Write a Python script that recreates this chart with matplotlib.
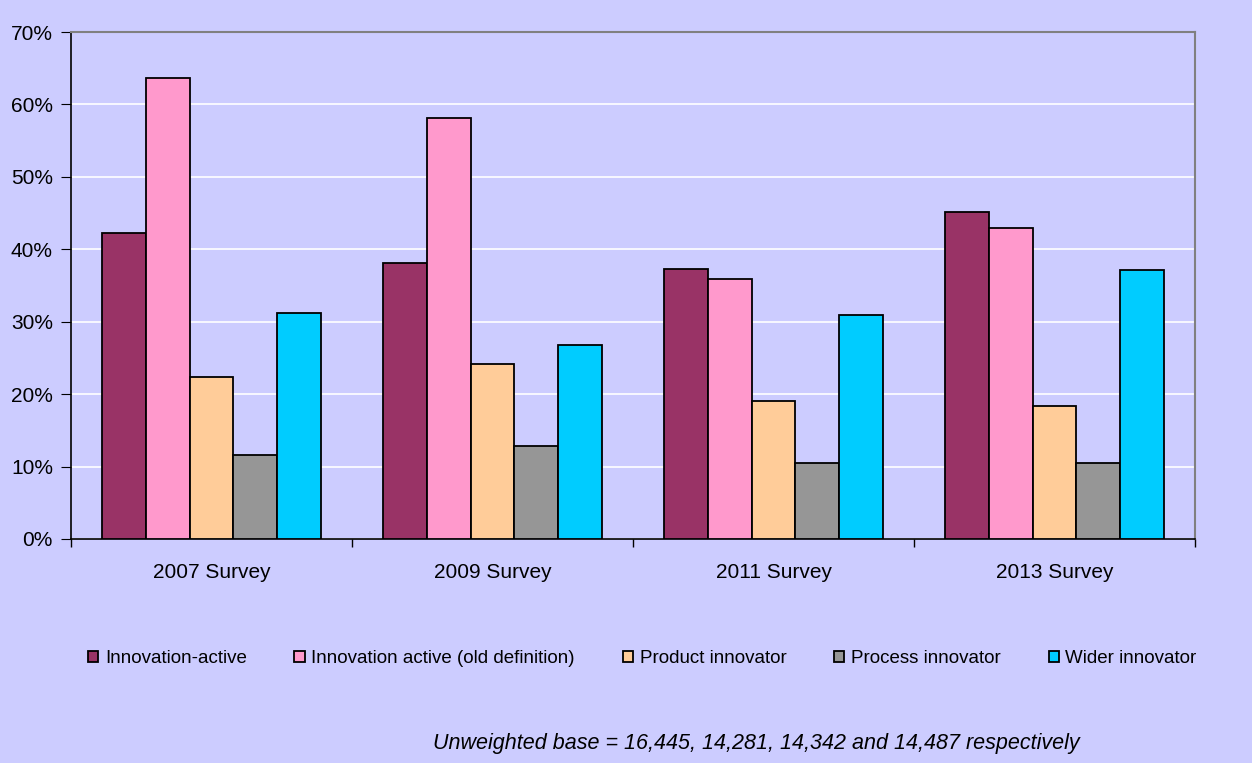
import numpy as np
import matplotlib.pyplot as plt
from matplotlib.ticker import PercentFormatter

plt.rcParams['font.family'] = ['Liberation Sans', 'DejaVu Sans']

surveys = ['2007 Survey', '2009 Survey', '2011 Survey', '2013 Survey']
series = ['Innovation-active', 'Innovation active (old definition)',
          'Product innovator', 'Process innovator', 'Wider innovator']
innovation_active = [42.3, 38.1, 37.3, 45.1]
innovation_old = [63.7, 58.2, 35.9, 42.9]
product = [22.4, 24.1, 19.1, 18.3]
process = [11.6, 12.8, 10.5, 10.5]
wider = [31.2, 26.8, 30.9, 37.1]
colors = ['#993366', '#FF99CC', '#FFCC99', '#969696', '#00CCFF']

bg = '#CCCCFF'

fig = plt.figure(figsize=(12.52, 7.63), dpi=100, facecolor=bg)
ax = fig.add_axes([0.0567, 0.2936, 0.8978, 0.6644], facecolor=bg)

values = [innovation_active, innovation_old, product, process, wider]
x = np.arange(len(surveys))
w = 0.156
for i, (name, vals, c) in enumerate(zip(series, values, colors)):
    ax.bar(x + (i - 2) * w, vals, w, color=c, edgecolor='black',
           linewidth=1.3, label=name, zorder=3)

ax.set_xlim(-0.5, 3.5)
ax.set_ylim(0, 70)
ax.set_yticks(np.arange(0, 71, 10))
ax.yaxis.set_major_formatter(PercentFormatter(decimals=0))
ax.yaxis.grid(True, color='white', linewidth=1.2, zorder=0)

# survey names sit between the group boundary ticks
ax.set_xticks(np.arange(-0.5, 4, 1))
ax.set_xticklabels([])
ax.set_xticks(x, minor=True)
ax.set_xticklabels(surveys, minor=True)
ax.tick_params(axis='x', which='minor', length=0, pad=17, labelsize=15)
ax.tick_params(axis='x', which='major', length=6, direction='out', width=1)
ax.tick_params(axis='y', length=7, direction='out', labelsize=15, pad=6)

for s in ['top', 'right']:
    ax.spines[s].set_color('#808080')
    ax.spines[s].set_linewidth(1.5)
for s in ['left', 'bottom']:
    ax.spines[s].set_color('black')
    ax.spines[s].set_linewidth(1.2)

fig.legend(loc='center', bbox_to_anchor=(0.513, 0.137), ncol=5,
           frameon=False, fontsize=13.5, handlelength=0.55,
           handleheight=0.55, handletextpad=0.35, columnspacing=2.55)

fig.text(0.604, 0.012, 'Unweighted base = 16,445, 14,281, 14,342 and 14,487 respectively',
         ha='center', va='bottom', fontsize=15.5, style='italic')

fig.savefig('out.png', dpi=100, facecolor=bg)
